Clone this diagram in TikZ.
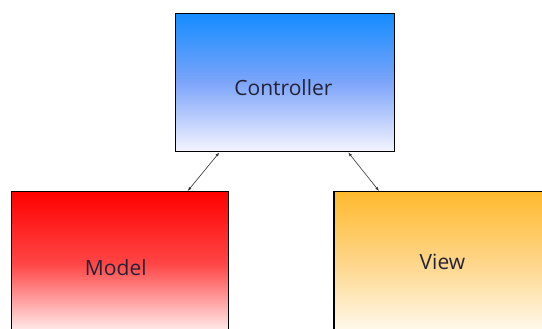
\documentclass[tikz,border=0pt]{standalone}
\usepackage{fontspec}
\setmainfont{Open Sans}
\usetikzlibrary{calc,arrows.meta}
\definecolor{ctrltop}{RGB}{20,140,255}
\definecolor{ctrlmid}{RGB}{125,165,250}
\definecolor{ctrlbot}{RGB}{245,245,255}
\definecolor{modeltop}{RGB}{255,0,0}
\definecolor{modelmid}{RGB}{255,70,70}
\definecolor{modelbot}{RGB}{255,250,250}
\definecolor{viewtop}{RGB}{255,185,45}
\definecolor{viewmid}{RGB}{254,215,140}
\definecolor{viewbot}{RGB}{255,252,245}
\definecolor{labeltext}{RGB}{35,35,55}
\tikzset{
  box/.style={draw=black, line width=1.3pt, rectangle, inner sep=0pt, anchor=north west},
  boxlabel/.style={font=\fontsize{21}{24}\selectfont, text=labeltext, anchor=base, inner sep=0pt},
  link/.style={draw=black!80, line width=0.6pt, {Latex[length=4pt,width=3pt]}-{Latex[length=4pt,width=3pt]}}
}
\begin{document}
\begin{tikzpicture}[x=1pt,y=1pt]
\useasboundingbox (0,0) rectangle (542,329);
\clip (0,0) rectangle (542,329);
% the three components
\node[box, top color=ctrltop, bottom color=ctrlbot, middle color=ctrlmid,
      minimum width=219pt, minimum height=138.5pt] (ctrl) at (174.5,316.3) {};
\node[box, top color=modeltop, bottom color=modelbot, middle color=modelmid,
      minimum width=217pt, minimum height=145pt] (model) at (10.7,138) {};
\node[box, top color=viewtop, bottom color=viewbot, middle color=viewmid,
      minimum width=218pt, minimum height=145pt] (view) at (333.3,138) {};
% captions, placed on their baselines
\node[boxlabel] (ctrltxt) at (283.4,233) {Controller};
\node[boxlabel] (modeltxt) at (115.8,53.7) {Model};
\node[boxlabel] (viewtxt) at (442.5,59.3) {View};
% attachment points on the box edges
\coordinate (c1) at ($(ctrl.south west)+(44.8,0)$);
\coordinate (c2) at ($(ctrl.south west)+(173.8,0)$);
\coordinate (m1) at ($(model.north west)+(177,0)$);
\coordinate (v1) at ($(view.north west)+(45.7,0)$);
\draw[link] (c1) -- (m1);
\draw[link] (c2) -- (v1);
\end{tikzpicture}
\end{document}
